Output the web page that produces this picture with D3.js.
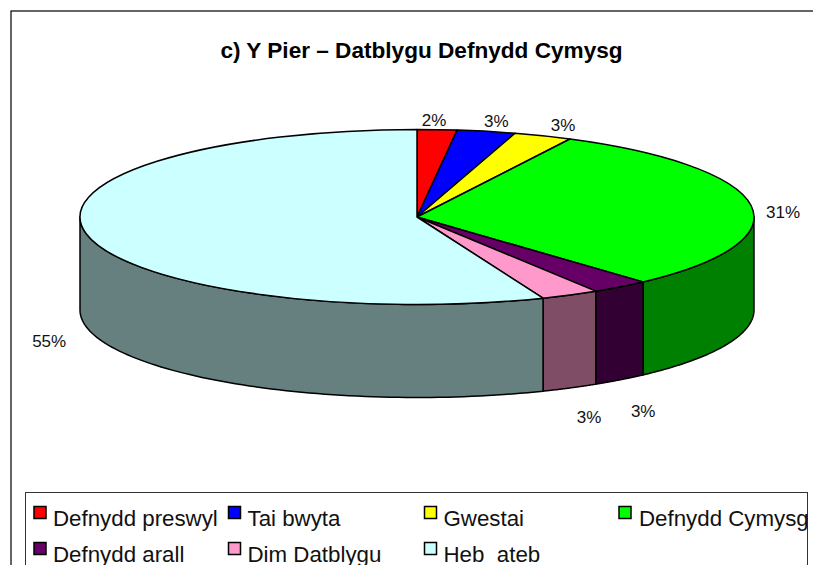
<!DOCTYPE html>
<html><head><meta charset="utf-8">
<script src="https://cdnjs.cloudflare.com/ajax/libs/d3/7.8.5/d3.min.js"></script>
<style>html,body{margin:0;padding:0;background:#fff;overflow:hidden}svg{display:block;font-family:"Liberation Sans",Arial,sans-serif}</style>
</head><body><svg id="c" width="813" height="565"></svg>
<script>
const titleText = "c) Y Pier – Datblygu Defnydd Cymysg";
const categories = ["Defnydd preswyl","Tai bwyta","Gwestai","Defnydd Cymysg","Defnydd arall","Dim Datblygu","Heb  ateb"];
const values = [1.9,2.8,2.8,30.8,2.8,2.8,56.1];
const percentLabels = ["2%","3%","3%","31%","3%","3%","55%"];
const topColors = ["#ff0000","#0000ff","#ffff00","#00ff00","#660066","#ff99cc","#ccffff"];
const sideColors = ["#800000","#000080","#808000","#008000","#330033","#804d66","#668080"];

// layout
const cx=417, cy=217, rx=337, ry=87.5, depth=93;
const labelNudgeX=[-3,10,20,32,23,19,-37], labelNudgeY=[-9,-10,-10,7,32,30,15];
const legendColX=[33.5,228,424,618.5], legendRowY=[518.5,554.5];

const svg=d3.select("#c");
svg.append("rect").attr("x",11).attr("y",11).attr("width",830).attr("height",600)
  .attr("fill","#fff").attr("stroke","#000").attr("stroke-width",1.2);
svg.append("text").attr("x",421.5).attr("y",58).attr("text-anchor","middle")
  .attr("font-size",22.6).attr("font-weight","bold").attr("fill","#000").text(titleText);

const arcs=d3.pie().sort(null).value(d=>d)(values);
const ptX=a=>cx+rx*Math.sin(a), ptY=a=>cy-ry*Math.cos(a);

// front walls
const wall=d3.area().x(a=>ptX(a)).y0(a=>ptY(a)+depth).y1(a=>ptY(a));
const wallGroup=svg.append("g");
arcs.forEach((d,i)=>{
  const a0=Math.max(d.startAngle,Math.PI/2), a1=Math.min(d.endAngle,3*Math.PI/2);
  if(a1<=a0) return;
  const n=80, angles=d3.range(n+1).map(k=>a0+(a1-a0)*k/n);
  wallGroup.append("path").attr("d",wall(angles)+"Z").attr("fill",sideColors[i])
    .attr("stroke","#000").attr("stroke-width",1.5).attr("stroke-linejoin","round");
});

// top face
const arc=d3.arc().innerRadius(0).outerRadius(rx);
const topFace=svg.append("g").attr("transform",`translate(${cx},${cy}) scale(1,${ry/rx})`);
topFace.selectAll("path").data(arcs).join("path").attr("d",arc)
  .attr("fill",(d,i)=>topColors[i]).attr("stroke","#000").attr("stroke-width",1.5)
  .attr("vector-effect","non-scaling-stroke").attr("stroke-linejoin","round");

// labels
svg.append("g").selectAll("text").data(arcs).join("text")
  .attr("x",(d,i)=>ptX((d.startAngle+d.endAngle)/2)+labelNudgeX[i])
  .attr("y",(d,i)=>{const m=(d.startAngle+d.endAngle)/2;
     return ptY(m)+(Math.cos(m)<0?depth:0)+labelNudgeY[i]+5.5;})
  .attr("text-anchor","middle").attr("font-size",17).attr("fill","#111")
  .text((d,i)=>percentLabels[i]);

// legend
svg.append("rect").attr("x",25.5).attr("y",492.5).attr("width",782).attr("height",100)
  .attr("fill","#fff").attr("stroke","#333").attr("stroke-width",1);
const legend=svg.append("g").selectAll("g").data(categories).join("g")
  .attr("transform",(d,i)=>{
    const r=i<4?0:1,c=i<4?i:i-4;
    return `translate(${legendColX[c]},${legendRowY[r]})`;});
legend.append("rect").attr("x",0.5).attr("y",-12).attr("width",12).attr("height",12)
  .attr("fill",(d,i)=>topColors[i]).attr("stroke","#000").attr("stroke-width",1.5);
legend.append("text").attr("x",(d,i)=>i===3?20.5:19.5).attr("y",7.5).attr("font-size",22.3).attr("fill","#111")
  .style("white-space","pre").text(d=>d);
</script></body></html>
